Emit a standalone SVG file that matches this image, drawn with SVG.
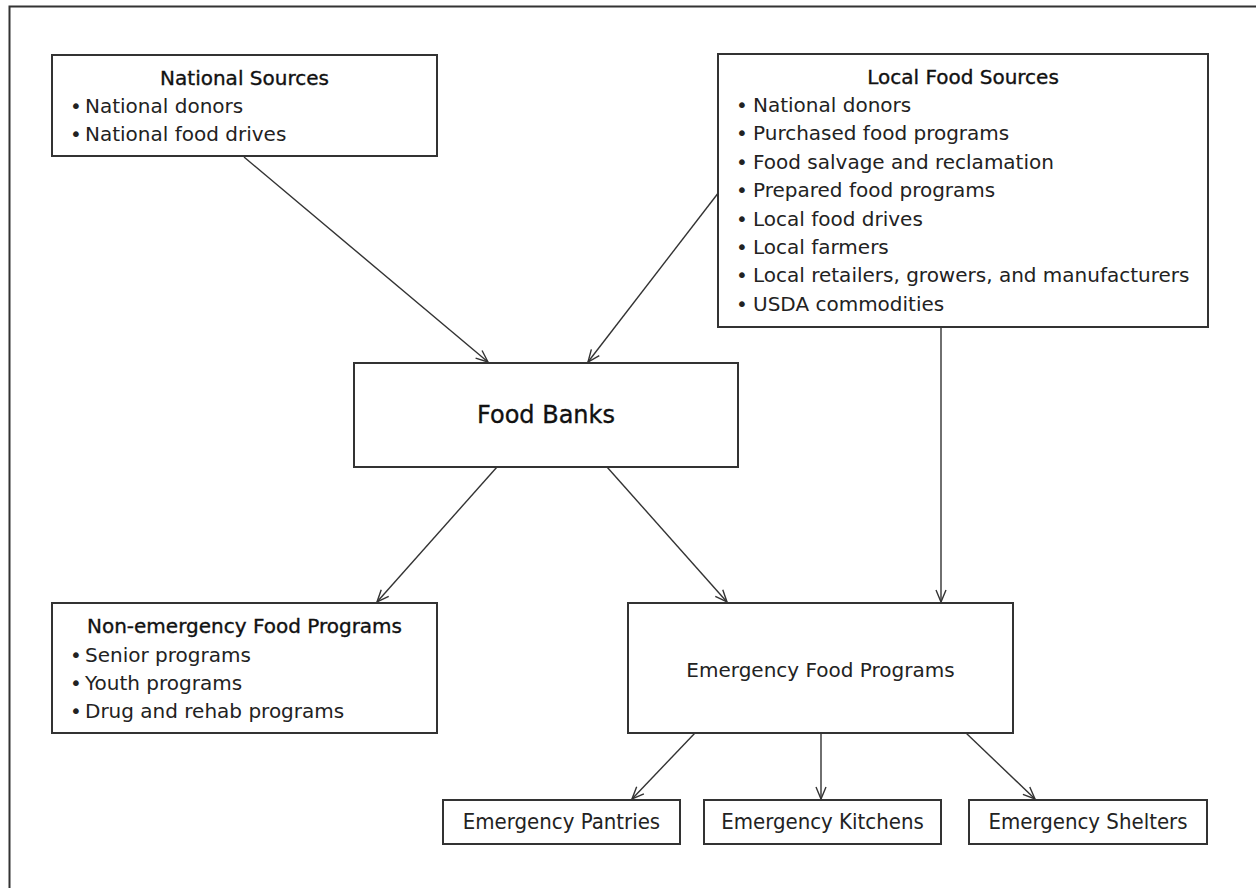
<svg xmlns="http://www.w3.org/2000/svg" width="1256" height="888" viewBox="0 0 1256 888">
<defs>
<marker id="ah" viewBox="0 0 14 12" markerWidth="14" markerHeight="12" refX="13" refY="6" orient="auto" markerUnits="userSpaceOnUse">
<path d="M1,1 L13,6 L1,11" fill="none" stroke="#333" stroke-width="1.4"/>
</marker>
</defs>
<style>
.box{fill:#fff;stroke:#333;stroke-width:2}
.t{font-family:"DejaVu Sans","Liberation Sans",sans-serif;font-size:20px;fill:#222}
.h{font-family:"DejaVu Sans","Liberation Sans",sans-serif;font-size:20px;fill:#111;stroke:#111;stroke-width:0.35;text-anchor:middle}
.m{font-family:"DejaVu Sans","Liberation Sans",sans-serif;font-size:20px;fill:#222;text-anchor:middle}
.c{font-family:"DejaVu Sans Condensed","DejaVu Sans","Liberation Sans",sans-serif;font-size:22px;fill:#222;text-anchor:middle}
.con{fill:none;stroke:#333;stroke-width:1.4;marker-end:url(#ah)}
</style>
<rect width="1256" height="888" fill="#fff"/>
<path d="M9.5,888 L9.5,6.5 L1256,6.5" fill="none" stroke="#333" stroke-width="2"/>
<g id="connectors">
<line class="con" x1="244" y1="157" x2="488" y2="362"/>
<line class="con" x1="719" y1="192" x2="588" y2="362"/>
<line class="con" x1="497" y1="467" x2="377" y2="602"/>
<line class="con" x1="607" y1="467" x2="727" y2="602"/>
<line class="con" x1="941" y1="327" x2="941" y2="602"/>
<line class="con" x1="695" y1="733" x2="632" y2="799"/>
<line class="con" x1="821" y1="733" x2="821" y2="799"/>
<line class="con" x1="966" y1="733" x2="1035" y2="799"/>
</g>
<g id="national-sources">
<rect class="box" x="52" y="55" width="385" height="101"/>
<text class="h" x="244.5" y="85">National Sources</text>
<text class="t"><tspan x="70" y="113">•</tspan><tspan x="85" y="113">National donors</tspan></text>
<text class="t"><tspan x="70" y="141">•</tspan><tspan x="85" y="141">National food drives</tspan></text>
</g>
<g id="local-food-sources">
<rect class="box" x="718" y="54" width="490" height="273"/>
<text class="h" x="963" y="84">Local Food Sources</text>
<text class="t"><tspan x="736" y="112">•</tspan><tspan x="753" y="112">National donors</tspan></text>
<text class="t"><tspan x="736" y="140.4">•</tspan><tspan x="753" y="140.4">Purchased food programs</tspan></text>
<text class="t"><tspan x="736" y="168.8">•</tspan><tspan x="753" y="168.8">Food salvage and reclamation</tspan></text>
<text class="t"><tspan x="736" y="197.2">•</tspan><tspan x="753" y="197.2">Prepared food programs</tspan></text>
<text class="t"><tspan x="736" y="225.6">•</tspan><tspan x="753" y="225.6">Local food drives</tspan></text>
<text class="t"><tspan x="736" y="254">•</tspan><tspan x="753" y="254">Local farmers</tspan></text>
<text class="t"><tspan x="736" y="282.4">•</tspan><tspan x="753" y="282.4">Local retailers, growers, and manufacturers</tspan></text>
<text class="t"><tspan x="736" y="310.8">•</tspan><tspan x="753" y="310.8">USDA commodities</tspan></text>
</g>
<g id="food-banks">
<rect class="box" x="354" y="363" width="384" height="104"/>
<text class="h" x="546" y="423" style="font-size:24px">Food Banks</text>
</g>
<g id="non-emergency">
<rect class="box" x="52" y="603" width="385" height="130"/>
<text class="h" x="244.5" y="633">Non-emergency Food Programs</text>
<text class="t"><tspan x="70" y="662">•</tspan><tspan x="85" y="662">Senior programs</tspan></text>
<text class="t"><tspan x="70" y="690">•</tspan><tspan x="85" y="690">Youth programs</tspan></text>
<text class="t"><tspan x="70" y="718">•</tspan><tspan x="85" y="718">Drug and rehab programs</tspan></text>
</g>
<g id="emergency-food-programs">
<rect class="box" x="628" y="603" width="385" height="130"/>
<text class="m" x="820.5" y="677">Emergency Food Programs</text>
</g>
<g id="emergency-pantries">
<rect class="box" x="443" y="800" width="237" height="44"/>
<text class="c" x="561.5" y="829">Emergency Pantries</text>
</g>
<g id="emergency-kitchens">
<rect class="box" x="704" y="800" width="237" height="44"/>
<text class="c" x="822.5" y="829">Emergency Kitchens</text>
</g>
<g id="emergency-shelters">
<rect class="box" x="969" y="800" width="238" height="44"/>
<text class="c" x="1088" y="829">Emergency Shelters</text>
</g>
</svg>
